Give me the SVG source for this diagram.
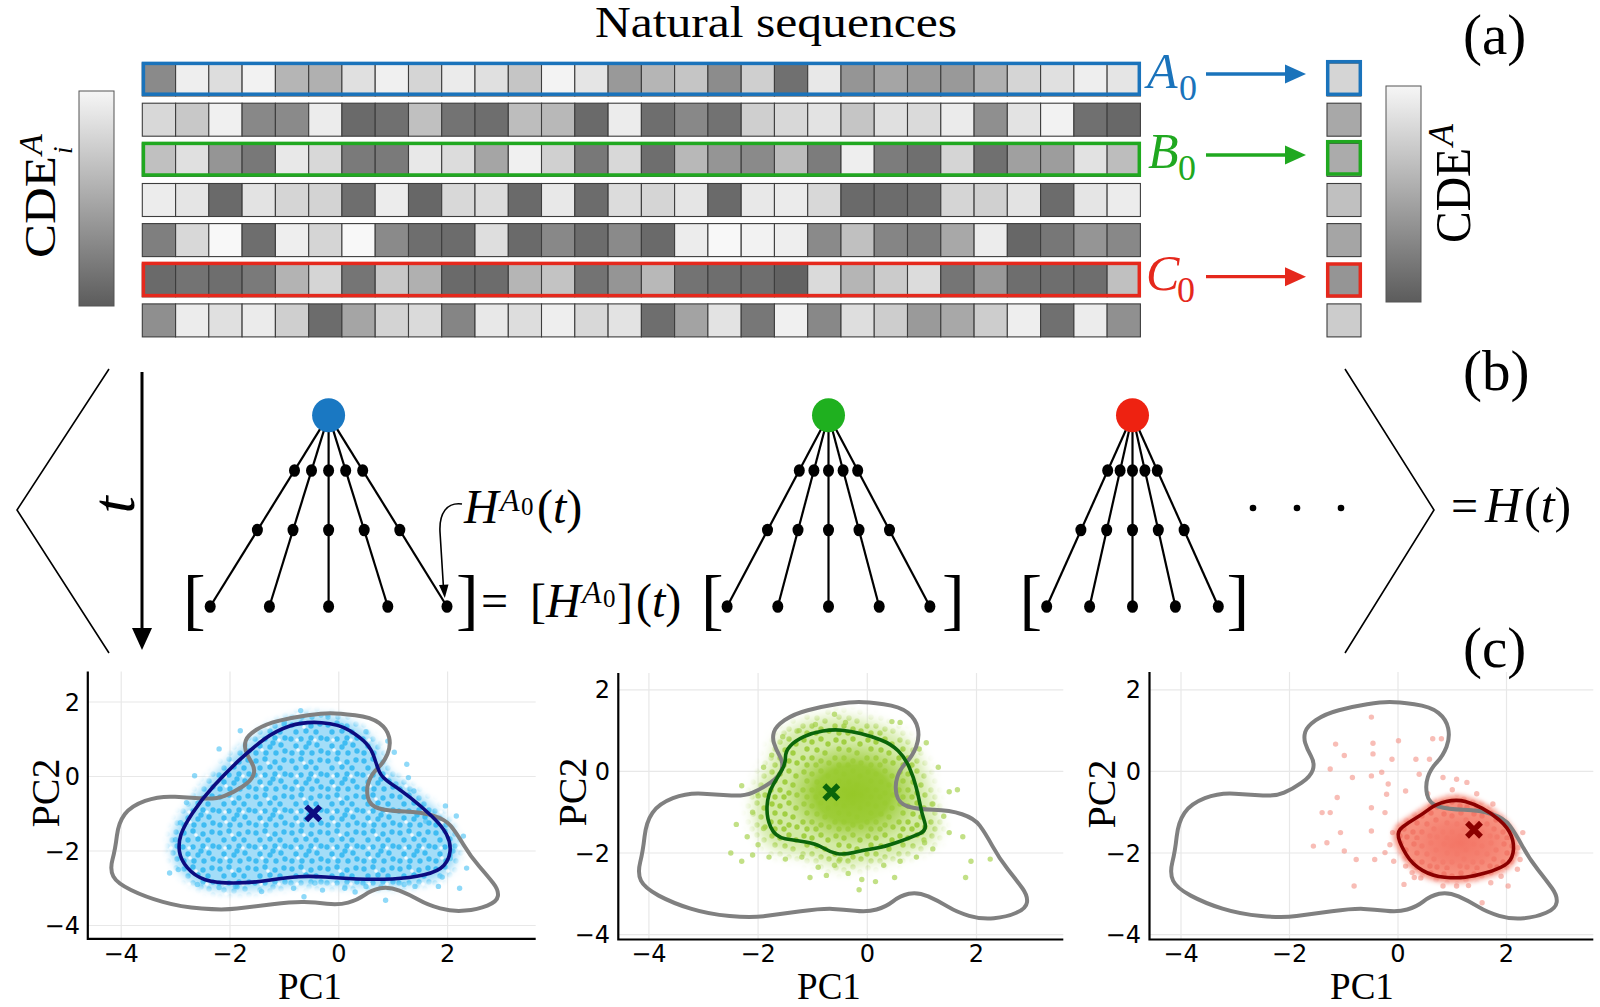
<svg xmlns="http://www.w3.org/2000/svg" width="1600" height="1007" viewBox="0 0 1600 1007">
<style>
.s{font-family:"Liberation Serif","Times New Roman",serif;fill:#000}
.it{font-style:italic}
.c rect{stroke:#3d3d3d;stroke-width:1.1}
.tk{font-family:"DejaVu Sans","Liberation Sans",sans-serif;font-size:24px;fill:#000}
.tx{text-anchor:middle}
.ty{text-anchor:end}
.grid line{stroke:#e8e8e8;stroke-width:1.2}
.ax{fill:none;stroke:#000;stroke-width:2.2}
.edge line{stroke:#000;stroke-width:2.2}
.nd ellipse{fill:#000}
.gc{fill:none;stroke:#808080;stroke-width:4}
.fr{fill:none;stroke-width:3.5}
</style>
<defs>
<linearGradient id="cb" x1="0" y1="0" x2="0" y2="1"><stop offset="0" stop-color="#f6f6f6"/><stop offset="1" stop-color="#5c5c5c"/></linearGradient>
<filter id="blur4" x="-20%" y="-20%" width="140%" height="140%"><feGaussianBlur stdDeviation="4"/></filter>
<filter id="blur7" x="-30%" y="-30%" width="160%" height="160%"><feGaussianBlur stdDeviation="7"/></filter>
<filter id="blur2" x="-20%" y="-20%" width="140%" height="140%"><feGaussianBlur stdDeviation="2.5"/></filter>
<pattern id="dotB" patternUnits="userSpaceOnUse" width="36" height="36">
<rect width="36" height="36" fill="#a3ddf8"/>
<g fill="#3fbcf2"><circle cx="4" cy="5" r="2.7"/><circle cx="13" cy="3" r="2.7"/><circle cx="23" cy="6" r="2.7"/><circle cx="32" cy="4" r="2.7"/><circle cx="8" cy="12" r="2.7"/><circle cx="18" cy="11" r="2.7"/><circle cx="28" cy="12" r="2.7"/><circle cx="33" cy="18" r="2.7"/><circle cx="3" cy="19" r="2.7"/><circle cx="13" cy="19" r="2.7"/><circle cx="23" cy="18" r="2.7"/><circle cx="8" cy="26" r="2.7"/><circle cx="18" cy="27" r="2.7"/><circle cx="29" cy="25" r="2.7"/><circle cx="4" cy="33" r="2.7"/><circle cx="14" cy="33" r="2.7"/><circle cx="24" cy="33" r="2.7"/><circle cx="33" cy="31" r="2.7"/><circle cx="21" cy="23" r="2.7"/></g>
<g fill="#eef9fe"><circle cx="9" cy="20" r="1.8"/><circle cx="27" cy="20" r="1.8"/><circle cx="16" cy="7" r="1.8"/><circle cx="10" cy="30" r="1.8"/></g>
</pattern>
<pattern id="dotG" patternUnits="userSpaceOnUse" width="32" height="32">
<rect width="32" height="32" fill="#d3eaa6"/>
<g fill="#a1cf42"><circle cx="4" cy="4" r="2.7"/><circle cx="12" cy="6" r="2.7"/><circle cx="21" cy="3" r="2.7"/><circle cx="28" cy="8" r="2.7"/><circle cx="7" cy="13" r="2.7"/><circle cx="17" cy="14" r="2.7"/><circle cx="25" cy="17" r="2.7"/><circle cx="3" cy="22" r="2.7"/><circle cx="12" cy="22" r="2.7"/><circle cx="21" cy="25" r="2.7"/><circle cx="29" cy="27" r="2.7"/><circle cx="7" cy="29" r="2.7"/><circle cx="16" cy="29" r="2.7"/></g>
</pattern>
<pattern id="dotR" patternUnits="userSpaceOnUse" width="30" height="30">
<rect width="30" height="30" fill="#f7917f"/>
<g fill="#f27868"><circle cx="4" cy="4" r="2.7"/><circle cx="12" cy="6" r="2.7"/><circle cx="21" cy="3" r="2.7"/><circle cx="26" cy="10" r="2.7"/><circle cx="7" cy="13" r="2.7"/><circle cx="17" cy="14" r="2.7"/><circle cx="24" cy="19" r="2.7"/><circle cx="3" cy="22" r="2.7"/><circle cx="12" cy="22" r="2.7"/><circle cx="20" cy="26" r="2.7"/><circle cx="27" cy="27" r="2.7"/><circle cx="7" cy="28" r="2.7"/></g>
</pattern>
<radialGradient id="coreG"><stop offset="0" stop-color="#96c828"/><stop offset="0.55" stop-color="#9acb32" stop-opacity="0.95"/><stop offset="0.8" stop-color="#a5d04a" stop-opacity="0.5"/><stop offset="1" stop-color="#a5d04a" stop-opacity="0"/></radialGradient>
<radialGradient id="coreR"><stop offset="0" stop-color="#f37565"/><stop offset="0.6" stop-color="#f47e6e" stop-opacity="0.8"/><stop offset="1" stop-color="#f48272" stop-opacity="0"/></radialGradient>
<path id="kdeAll" vector-effect="non-scaling-stroke" stroke-linejoin="round" d="M-0.155,1.7 Q0,1.7 0.3,1.645 Q0.6,1.59 0.745,1.435 Q0.89,1.28 0.925,1.055 Q0.96,0.83 0.895,0.605 Q0.83,0.38 0.715,0.22 Q0.6,0.06 0.55,-0.14 Q0.5,-0.34 0.535,-0.565 Q0.57,-0.79 0.745,-0.86 Q0.92,-0.93 1.215,-0.94 Q1.51,-0.95 1.735,-1.05 Q1.96,-1.15 2.06,-1.33 Q2.16,-1.51 2.29,-1.825 Q2.42,-2.14 2.58,-2.41 Q2.74,-2.68 2.84,-2.865 Q2.94,-3.05 2.925,-3.205 Q2.91,-3.36 2.73,-3.465 Q2.55,-3.57 2.32,-3.6 Q2.09,-3.63 1.865,-3.54 Q1.64,-3.45 1.475,-3.315 Q1.31,-3.18 1.115,-3.065 Q0.92,-2.95 0.76,-3 Q0.6,-3.05 0.47,-3.185 Q0.34,-3.32 0.17,-3.385 Q0,-3.45 -0.22,-3.415 Q-0.44,-3.38 -0.635,-3.37 Q-0.83,-3.36 -1.22,-3.43 Q-1.61,-3.5 -1.87,-3.545 Q-2.13,-3.59 -2.52,-3.545 Q-2.91,-3.5 -3.235,-3.365 Q-3.56,-3.23 -3.82,-3.045 Q-4.08,-2.86 -4.145,-2.68 Q-4.21,-2.5 -4.16,-2.23 Q-4.11,-1.96 -4.08,-1.6 Q-4.05,-1.24 -3.935,-1.015 Q-3.82,-0.79 -3.56,-0.655 Q-3.3,-0.52 -3.01,-0.545 Q-2.72,-0.57 -2.49,-0.59 Q-2.26,-0.61 -2.1,-0.52 Q-1.94,-0.43 -1.775,-0.275 Q-1.61,-0.12 -1.57,0.04 Q-1.53,0.2 -1.605,0.38 Q-1.68,0.56 -1.71,0.695 Q-1.74,0.83 -1.71,0.965 Q-1.68,1.1 -1.515,1.255 Q-1.35,1.41 -1.09,1.5 Q-0.83,1.59 -0.57,1.645 Q-0.31,1.7 -0.155,1.7 Z"/>
<path id="kdeA" vector-effect="non-scaling-stroke" stroke-linejoin="round" d="M-0.9,1.355 Q-0.64,1.48 -0.315,1.445 Q0.01,1.41 0.205,1.23 Q0.4,1.05 0.5,0.895 Q0.6,0.74 0.65,0.515 Q0.7,0.29 0.745,0.13 Q0.79,-0.03 0.955,-0.185 Q1.12,-0.34 1.315,-0.565 Q1.51,-0.79 1.705,-1.06 Q1.9,-1.33 1.98,-1.555 Q2.06,-1.78 2.045,-2.005 Q2.03,-2.23 1.93,-2.39 Q1.83,-2.55 1.57,-2.64 Q1.31,-2.73 0.985,-2.75 Q0.66,-2.77 0.335,-2.75 Q0.01,-2.73 -0.25,-2.7 Q-0.51,-2.67 -0.735,-2.69 Q-0.96,-2.71 -1.285,-2.785 Q-1.61,-2.86 -1.935,-2.86 Q-2.26,-2.86 -2.455,-2.77 Q-2.65,-2.68 -2.78,-2.455 Q-2.91,-2.23 -2.93,-2.005 Q-2.95,-1.78 -2.9,-1.555 Q-2.85,-1.33 -2.685,-0.97 Q-2.52,-0.61 -2.295,-0.25 Q-2.07,0.11 -1.84,0.425 Q-1.61,0.74 -1.385,0.985 Q-1.16,1.23 -0.9,1.355 Z"/>
<path id="kdeB" vector-effect="non-scaling-stroke" stroke-linejoin="round" d="M-0.815,0.99 Q-0.63,1.03 -0.47,1.01 Q-0.31,0.99 -0.125,0.93 Q0.06,0.87 0.25,0.77 Q0.44,0.67 0.565,0.505 Q0.69,0.34 0.77,0.095 Q0.85,-0.15 0.895,-0.39 Q0.94,-0.63 0.97,-0.835 Q1,-1.04 1.05,-1.24 Q1.1,-1.44 0.96,-1.525 Q0.82,-1.61 0.565,-1.73 Q0.31,-1.85 0.125,-1.89 Q-0.06,-1.93 -0.25,-1.99 Q-0.44,-2.05 -0.565,-2.01 Q-0.69,-1.97 -0.815,-1.87 Q-0.94,-1.77 -1.13,-1.73 Q-1.32,-1.69 -1.505,-1.65 Q-1.69,-1.61 -1.77,-1.365 Q-1.85,-1.12 -1.835,-0.835 Q-1.82,-0.55 -1.725,-0.33 Q-1.63,-0.11 -1.565,0.035 Q-1.5,0.18 -1.5,0.34 Q-1.5,0.5 -1.41,0.625 Q-1.32,0.75 -1.16,0.85 Q-1,0.95 -0.815,0.99 Z"/>
<path id="kdeC" vector-effect="non-scaling-stroke" stroke-linejoin="round" d="M0.89,-0.74 Q1.08,-0.68 1.24,-0.74 Q1.4,-0.8 1.555,-0.905 Q1.71,-1.01 1.87,-1.195 Q2.03,-1.38 2.09,-1.585 Q2.15,-1.79 2.12,-1.995 Q2.09,-2.2 1.965,-2.3 Q1.84,-2.4 1.62,-2.485 Q1.4,-2.57 1.24,-2.595 Q1.08,-2.62 0.86,-2.595 Q0.64,-2.57 0.45,-2.425 Q0.26,-2.28 0.15,-2.035 Q0.04,-1.79 0.01,-1.625 Q-0.02,-1.46 0.09,-1.355 Q0.2,-1.25 0.325,-1.15 Q0.45,-1.05 0.575,-0.925 Q0.7,-0.8 0.89,-0.74 Z"/>
<mask id="mA" maskUnits="userSpaceOnUse" x="60" y="640" width="520" height="330"><g filter="url(#blur4)"><use href="#kdeA" transform="translate(338.8 776.5) scale(54.4 -37.25)" fill="#fff" stroke="#fff" stroke-width="16"/></g></mask>
<mask id="mB" maskUnits="userSpaceOnUse" x="590" y="640" width="500" height="330"><g filter="url(#blur7)"><use href="#kdeB" transform="translate(867.3 771.4) scale(54.6 -40.8)" fill="#fff" stroke="#fff" stroke-width="26"/></g></mask>
<mask id="mC" maskUnits="userSpaceOnUse" x="1120" y="640" width="480" height="330"><g filter="url(#blur2)"><use href="#kdeC" transform="translate(1398 771.4) scale(54.25 -40.8)" fill="#fff" stroke="#fff" stroke-width="10"/></g></mask>
</defs>
<rect width="1600" height="1007" fill="#fff"/>

<text id="title" class="s" x="776" y="37" font-size="44" text-anchor="middle" textLength="362" lengthAdjust="spacingAndGlyphs">Natural sequences</text>
<text class="s" x="1463" y="54" font-size="57">(a)</text>
<text class="s" x="1463" y="390" font-size="57">(b)</text>
<text class="s" x="1463" y="667" font-size="57">(c)</text>

<g id="colorbar-left">
<rect x="79" y="91" width="35" height="215" fill="url(#cb)" stroke="#555" stroke-width="1"/>
<text class="s" transform="translate(55 258) rotate(-90)" font-size="44"><tspan textLength="102" lengthAdjust="spacingAndGlyphs">CDE</tspan><tspan class="it" x="103" y="-13" font-size="34">A</tspan><tspan class="it" x="104" y="17" font-size="27">i</tspan></text>
</g>
<g id="colorbar-right">
<rect x="1386" y="86" width="35" height="216" fill="url(#cb)" stroke="#555" stroke-width="1"/>
<text class="s" transform="translate(1470 243) rotate(-90)" font-size="50"><tspan textLength="95" lengthAdjust="spacingAndGlyphs">CDE</tspan><tspan class="it" x="97" y="-17" font-size="36">A</tspan></text>
</g>

<g id="sequences" class="c">
<g id="seq-1" transform="translate(0 63)">
<rect x="142.3" width="33.3" height="33" fill="#8a8a8a"/><rect x="175.6" width="33.3" height="33" fill="#eeeeee"/><rect x="208.8" width="33.3" height="33" fill="#dddddd"/><rect x="242.1" width="33.3" height="33" fill="#f2f2f2"/><rect x="275.4" width="33.3" height="33" fill="#b5b5b5"/><rect x="308.7" width="33.3" height="33" fill="#b0b0b0"/><rect x="341.9" width="33.3" height="33" fill="#e0e0e0"/><rect x="375.2" width="33.3" height="33" fill="#f0f0f0"/><rect x="408.5" width="33.3" height="33" fill="#d5d5d5"/><rect x="441.7" width="33.3" height="33" fill="#ebebeb"/><rect x="475" width="33.3" height="33" fill="#e0e0e0"/><rect x="508.3" width="33.3" height="33" fill="#c5c5c5"/><rect x="541.5" width="33.3" height="33" fill="#f3f3f3"/><rect x="574.8" width="33.3" height="33" fill="#e5e5e5"/><rect x="608.1" width="33.3" height="33" fill="#999999"/><rect x="641.4" width="33.3" height="33" fill="#b5b5b5"/><rect x="674.6" width="33.3" height="33" fill="#c5c5c5"/><rect x="707.9" width="33.3" height="33" fill="#8c8c8c"/><rect x="741.2" width="33.3" height="33" fill="#cfcfcf"/><rect x="774.4" width="33.3" height="33" fill="#707070"/><rect x="807.7" width="33.3" height="33" fill="#e8e8e8"/><rect x="841" width="33.3" height="33" fill="#959595"/><rect x="874.2" width="33.3" height="33" fill="#a5a5a5"/><rect x="907.5" width="33.3" height="33" fill="#9a9a9a"/><rect x="940.8" width="33.3" height="33" fill="#999999"/><rect x="974.1" width="33.3" height="33" fill="#b0b0b0"/><rect x="1007.3" width="33.3" height="33" fill="#d5d5d5"/><rect x="1040.6" width="33.3" height="33" fill="#e0e0e0"/><rect x="1073.9" width="33.3" height="33" fill="#eeeeee"/><rect x="1107.1" width="33.3" height="33" fill="#e5e5e5"/>
</g>
<g id="seq-2" transform="translate(0 103.2)">
<rect x="142.3" width="33.3" height="33" fill="#d8d8d8"/><rect x="175.6" width="33.3" height="33" fill="#c8c8c8"/><rect x="208.8" width="33.3" height="33" fill="#f0f0f0"/><rect x="242.1" width="33.3" height="33" fill="#888888"/><rect x="275.4" width="33.3" height="33" fill="#8a8a8a"/><rect x="308.7" width="33.3" height="33" fill="#ececec"/><rect x="341.9" width="33.3" height="33" fill="#6a6a6a"/><rect x="375.2" width="33.3" height="33" fill="#707070"/><rect x="408.5" width="33.3" height="33" fill="#c0c0c0"/><rect x="441.7" width="33.3" height="33" fill="#737373"/><rect x="475" width="33.3" height="33" fill="#6e6e6e"/><rect x="508.3" width="33.3" height="33" fill="#bdbdbd"/><rect x="541.5" width="33.3" height="33" fill="#b8b8b8"/><rect x="574.8" width="33.3" height="33" fill="#6a6a6a"/><rect x="608.1" width="33.3" height="33" fill="#ececec"/><rect x="641.4" width="33.3" height="33" fill="#6e6e6e"/><rect x="674.6" width="33.3" height="33" fill="#888888"/><rect x="707.9" width="33.3" height="33" fill="#727272"/><rect x="741.2" width="33.3" height="33" fill="#cfcfcf"/><rect x="774.4" width="33.3" height="33" fill="#d8d8d8"/><rect x="807.7" width="33.3" height="33" fill="#e3e3e3"/><rect x="841" width="33.3" height="33" fill="#c5c5c5"/><rect x="874.2" width="33.3" height="33" fill="#e0e0e0"/><rect x="907.5" width="33.3" height="33" fill="#dadada"/><rect x="940.8" width="33.3" height="33" fill="#ebebeb"/><rect x="974.1" width="33.3" height="33" fill="#8f8f8f"/><rect x="1007.3" width="33.3" height="33" fill="#e3e3e3"/><rect x="1040.6" width="33.3" height="33" fill="#f2f2f2"/><rect x="1073.9" width="33.3" height="33" fill="#707070"/><rect x="1107.1" width="33.3" height="33" fill="#686868"/>
</g>
<g id="seq-3" transform="translate(0 143.3)">
<rect x="142.3" width="33.3" height="33" fill="#c0c0c0"/><rect x="175.6" width="33.3" height="33" fill="#e0e0e0"/><rect x="208.8" width="33.3" height="33" fill="#959595"/><rect x="242.1" width="33.3" height="33" fill="#787878"/><rect x="275.4" width="33.3" height="33" fill="#e8e8e8"/><rect x="308.7" width="33.3" height="33" fill="#d8d8d8"/><rect x="341.9" width="33.3" height="33" fill="#7a7a7a"/><rect x="375.2" width="33.3" height="33" fill="#7a7a7a"/><rect x="408.5" width="33.3" height="33" fill="#e8e8e8"/><rect x="441.7" width="33.3" height="33" fill="#dcdcdc"/><rect x="475" width="33.3" height="33" fill="#a5a5a5"/><rect x="508.3" width="33.3" height="33" fill="#f0f0f0"/><rect x="541.5" width="33.3" height="33" fill="#d0d0d0"/><rect x="574.8" width="33.3" height="33" fill="#787878"/><rect x="608.1" width="33.3" height="33" fill="#d8d8d8"/><rect x="641.4" width="33.3" height="33" fill="#6e6e6e"/><rect x="674.6" width="33.3" height="33" fill="#b8b8b8"/><rect x="707.9" width="33.3" height="33" fill="#959595"/><rect x="741.2" width="33.3" height="33" fill="#8a8a8a"/><rect x="774.4" width="33.3" height="33" fill="#bcbcbc"/><rect x="807.7" width="33.3" height="33" fill="#7c7c7c"/><rect x="841" width="33.3" height="33" fill="#eeeeee"/><rect x="874.2" width="33.3" height="33" fill="#7c7c7c"/><rect x="907.5" width="33.3" height="33" fill="#6f6f6f"/><rect x="940.8" width="33.3" height="33" fill="#d5d5d5"/><rect x="974.1" width="33.3" height="33" fill="#707070"/><rect x="1007.3" width="33.3" height="33" fill="#a0a0a0"/><rect x="1040.6" width="33.3" height="33" fill="#9d9d9d"/><rect x="1073.9" width="33.3" height="33" fill="#e2e2e2"/><rect x="1107.1" width="33.3" height="33" fill="#bdbdbd"/>
</g>
<g id="seq-4" transform="translate(0 183.5)">
<rect x="142.3" width="33.3" height="33" fill="#ececec"/><rect x="175.6" width="33.3" height="33" fill="#e5e5e5"/><rect x="208.8" width="33.3" height="33" fill="#6a6a6a"/><rect x="242.1" width="33.3" height="33" fill="#e3e3e3"/><rect x="275.4" width="33.3" height="33" fill="#d5d5d5"/><rect x="308.7" width="33.3" height="33" fill="#d3d3d3"/><rect x="341.9" width="33.3" height="33" fill="#6e6e6e"/><rect x="375.2" width="33.3" height="33" fill="#ececec"/><rect x="408.5" width="33.3" height="33" fill="#676767"/><rect x="441.7" width="33.3" height="33" fill="#d8d8d8"/><rect x="475" width="33.3" height="33" fill="#dcdcdc"/><rect x="508.3" width="33.3" height="33" fill="#6a6a6a"/><rect x="541.5" width="33.3" height="33" fill="#e8e8e8"/><rect x="574.8" width="33.3" height="33" fill="#6c6c6c"/><rect x="608.1" width="33.3" height="33" fill="#dcdcdc"/><rect x="641.4" width="33.3" height="33" fill="#d5d5d5"/><rect x="674.6" width="33.3" height="33" fill="#e5e5e5"/><rect x="707.9" width="33.3" height="33" fill="#6a6a6a"/><rect x="741.2" width="33.3" height="33" fill="#e8e8e8"/><rect x="774.4" width="33.3" height="33" fill="#ebebeb"/><rect x="807.7" width="33.3" height="33" fill="#d8d8d8"/><rect x="841" width="33.3" height="33" fill="#6a6a6a"/><rect x="874.2" width="33.3" height="33" fill="#6c6c6c"/><rect x="907.5" width="33.3" height="33" fill="#6e6e6e"/><rect x="940.8" width="33.3" height="33" fill="#d5d5d5"/><rect x="974.1" width="33.3" height="33" fill="#d0d0d0"/><rect x="1007.3" width="33.3" height="33" fill="#e3e3e3"/><rect x="1040.6" width="33.3" height="33" fill="#6c6c6c"/><rect x="1073.9" width="33.3" height="33" fill="#e5e5e5"/><rect x="1107.1" width="33.3" height="33" fill="#ececec"/>
</g>
<g id="seq-5" transform="translate(0 223.6)">
<rect x="142.3" width="33.3" height="33" fill="#7f7f7f"/><rect x="175.6" width="33.3" height="33" fill="#d8d8d8"/><rect x="208.8" width="33.3" height="33" fill="#f8f8f8"/><rect x="242.1" width="33.3" height="33" fill="#6e6e6e"/><rect x="275.4" width="33.3" height="33" fill="#eeeeee"/><rect x="308.7" width="33.3" height="33" fill="#d5d5d5"/><rect x="341.9" width="33.3" height="33" fill="#f8f8f8"/><rect x="375.2" width="33.3" height="33" fill="#8a8a8a"/><rect x="408.5" width="33.3" height="33" fill="#6e6e6e"/><rect x="441.7" width="33.3" height="33" fill="#6c6c6c"/><rect x="475" width="33.3" height="33" fill="#dedede"/><rect x="508.3" width="33.3" height="33" fill="#6a6a6a"/><rect x="541.5" width="33.3" height="33" fill="#888888"/><rect x="574.8" width="33.3" height="33" fill="#6c6c6c"/><rect x="608.1" width="33.3" height="33" fill="#8a8a8a"/><rect x="641.4" width="33.3" height="33" fill="#6a6a6a"/><rect x="674.6" width="33.3" height="33" fill="#ececec"/><rect x="707.9" width="33.3" height="33" fill="#f8f8f8"/><rect x="741.2" width="33.3" height="33" fill="#f2f2f2"/><rect x="774.4" width="33.3" height="33" fill="#eeeeee"/><rect x="807.7" width="33.3" height="33" fill="#8a8a8a"/><rect x="841" width="33.3" height="33" fill="#c0c0c0"/><rect x="874.2" width="33.3" height="33" fill="#858585"/><rect x="907.5" width="33.3" height="33" fill="#7c7c7c"/><rect x="940.8" width="33.3" height="33" fill="#a8a8a8"/><rect x="974.1" width="33.3" height="33" fill="#ececec"/><rect x="1007.3" width="33.3" height="33" fill="#676767"/><rect x="1040.6" width="33.3" height="33" fill="#777777"/><rect x="1073.9" width="33.3" height="33" fill="#959595"/><rect x="1107.1" width="33.3" height="33" fill="#888888"/>
</g>
<g id="seq-6" transform="translate(0 263.8)">
<rect x="142.3" width="33.3" height="33" fill="#6a6a6a"/><rect x="175.6" width="33.3" height="33" fill="#737373"/><rect x="208.8" width="33.3" height="33" fill="#6e6e6e"/><rect x="242.1" width="33.3" height="33" fill="#7a7a7a"/><rect x="275.4" width="33.3" height="33" fill="#b3b3b3"/><rect x="308.7" width="33.3" height="33" fill="#d5d5d5"/><rect x="341.9" width="33.3" height="33" fill="#757575"/><rect x="375.2" width="33.3" height="33" fill="#c8c8c8"/><rect x="408.5" width="33.3" height="33" fill="#b0b0b0"/><rect x="441.7" width="33.3" height="33" fill="#6a6a6a"/><rect x="475" width="33.3" height="33" fill="#6c6c6c"/><rect x="508.3" width="33.3" height="33" fill="#b5b5b5"/><rect x="541.5" width="33.3" height="33" fill="#c3c3c3"/><rect x="574.8" width="33.3" height="33" fill="#737373"/><rect x="608.1" width="33.3" height="33" fill="#959595"/><rect x="641.4" width="33.3" height="33" fill="#b8b8b8"/><rect x="674.6" width="33.3" height="33" fill="#737373"/><rect x="707.9" width="33.3" height="33" fill="#6e6e6e"/><rect x="741.2" width="33.3" height="33" fill="#6e6e6e"/><rect x="774.4" width="33.3" height="33" fill="#626262"/><rect x="807.7" width="33.3" height="33" fill="#dadada"/><rect x="841" width="33.3" height="33" fill="#b5b5b5"/><rect x="874.2" width="33.3" height="33" fill="#cbcbcb"/><rect x="907.5" width="33.3" height="33" fill="#dcdcdc"/><rect x="940.8" width="33.3" height="33" fill="#757575"/><rect x="974.1" width="33.3" height="33" fill="#999999"/><rect x="1007.3" width="33.3" height="33" fill="#6e6e6e"/><rect x="1040.6" width="33.3" height="33" fill="#6e6e6e"/><rect x="1073.9" width="33.3" height="33" fill="#6e6e6e"/><rect x="1107.1" width="33.3" height="33" fill="#c0c0c0"/>
</g>
<g id="seq-7" transform="translate(0 303.9)">
<rect x="142.3" width="33.3" height="33" fill="#8f8f8f"/><rect x="175.6" width="33.3" height="33" fill="#ececec"/><rect x="208.8" width="33.3" height="33" fill="#e0e0e0"/><rect x="242.1" width="33.3" height="33" fill="#ebebeb"/><rect x="275.4" width="33.3" height="33" fill="#cfcfcf"/><rect x="308.7" width="33.3" height="33" fill="#6c6c6c"/><rect x="341.9" width="33.3" height="33" fill="#a5a5a5"/><rect x="375.2" width="33.3" height="33" fill="#d3d3d3"/><rect x="408.5" width="33.3" height="33" fill="#dadada"/><rect x="441.7" width="33.3" height="33" fill="#858585"/><rect x="475" width="33.3" height="33" fill="#e8e8e8"/><rect x="508.3" width="33.3" height="33" fill="#dddddd"/><rect x="541.5" width="33.3" height="33" fill="#eeeeee"/><rect x="574.8" width="33.3" height="33" fill="#d8d8d8"/><rect x="608.1" width="33.3" height="33" fill="#e3e3e3"/><rect x="641.4" width="33.3" height="33" fill="#6e6e6e"/><rect x="674.6" width="33.3" height="33" fill="#a3a3a3"/><rect x="707.9" width="33.3" height="33" fill="#e3e3e3"/><rect x="741.2" width="33.3" height="33" fill="#777777"/><rect x="774.4" width="33.3" height="33" fill="#f0f0f0"/><rect x="807.7" width="33.3" height="33" fill="#888888"/><rect x="841" width="33.3" height="33" fill="#dedede"/><rect x="874.2" width="33.3" height="33" fill="#cdcdcd"/><rect x="907.5" width="33.3" height="33" fill="#9a9a9a"/><rect x="940.8" width="33.3" height="33" fill="#a8a8a8"/><rect x="974.1" width="33.3" height="33" fill="#cdcdcd"/><rect x="1007.3" width="33.3" height="33" fill="#eeeeee"/><rect x="1040.6" width="33.3" height="33" fill="#707070"/><rect x="1073.9" width="33.3" height="33" fill="#ececec"/><rect x="1107.1" width="33.3" height="33" fill="#909090"/>
</g>
</g>

<g id="cde-column" class="c">
<rect x="1327" y="63" width="34" height="33" fill="#d5d5d5"/>
<rect x="1327" y="103.2" width="34" height="33" fill="#a8a8a8"/>
<rect x="1327" y="143.3" width="34" height="33" fill="#ababab"/>
<rect x="1327" y="183.5" width="34" height="33" fill="#c0c0c0"/>
<rect x="1327" y="223.6" width="34" height="33" fill="#a5a5a5"/>
<rect x="1327" y="263.8" width="34" height="33" fill="#959595"/>
<rect x="1327" y="303.9" width="34" height="33" fill="#cccccc"/>
</g>

<g id="highlight-frames">
<rect class="fr" x="143.4" y="63.4" width="995.9" height="30.8" stroke="#1a73bb"/>
<rect class="fr" x="143.4" y="143.4" width="995.9" height="31.6" stroke="#20a820"/>
<rect class="fr" x="143.4" y="263.4" width="995.9" height="32.2" stroke="#e5281c"/>
<rect class="fr" x="1327.7" y="61.7" width="32.6" height="32.6" stroke="#1a73bb"/>
<rect class="fr" x="1327.7" y="141.7" width="32.6" height="32.3" stroke="#20a820"/>
<rect class="fr" x="1327.7" y="264" width="32.6" height="32" stroke="#e5281c"/>
</g>

<g id="labels-abc">
<text class="s it" x="1147" y="88" font-size="50" style="fill:#1a73bb">A<tspan style="font-style:normal" x="1179" y="100" font-size="36">0</tspan></text>
<text class="s it" x="1148" y="168" font-size="50" style="fill:#20a820">B<tspan style="font-style:normal" x="1178" y="180" font-size="36">0</tspan></text>
<text class="s it" x="1146" y="290" font-size="50" style="fill:#e5281c">C<tspan style="font-style:normal" x="1177" y="302" font-size="36">0</tspan></text>
</g>

<g id="connectors">
<line x1="1206" y1="74" x2="1288" y2="74" stroke="#1a73bb" stroke-width="3.3"/>
<polygon points="1285,64.5 1306,74 1285,83.5" fill="#1a73bb"/>
<line x1="1206" y1="155" x2="1288" y2="155" stroke="#20a820" stroke-width="3.3"/>
<polygon points="1285,145.5 1306,155 1285,164.5" fill="#20a820"/>
<line x1="1206" y1="276.7" x2="1288" y2="276.7" stroke="#e5281c" stroke-width="3.3"/>
<polygon points="1285,267.2 1306,276.7 1285,286.2" fill="#e5281c"/>
<polyline points="109,369 17,510 109,653" fill="none" stroke="#000" stroke-width="1.6"/>
<polyline points="1345,369 1434,510 1345,653" fill="none" stroke="#000" stroke-width="1.6"/>
<line x1="142" y1="372" x2="142" y2="632" stroke="#000" stroke-width="3"/>
<polygon points="132,628 152,628 142,650" fill="#000"/>
<path d="M462,504 C447,502 439,513 440,532 L443.5,588" fill="none" stroke="#000" stroke-width="1.6"/>
<polygon points="439,585 448.5,584.5 444.8,598" fill="#000"/>
</g>
<text class="s it" transform="translate(134 505) rotate(-90)" font-size="62" text-anchor="middle">t</text>

<g id="tree-A">
<g class="edge"><line x1="328.6" y1="415.3" x2="210.2" y2="606.5"/><line x1="328.6" y1="415.3" x2="269.4" y2="606.5"/><line x1="328.6" y1="415.3" x2="328.6" y2="606.5"/><line x1="328.6" y1="415.3" x2="387.8" y2="606.5"/><line x1="328.6" y1="415.3" x2="447" y2="606.5"/></g>
<g class="nd"><ellipse cx="294.5" cy="470.5" rx="5.5" ry="6.3"/><ellipse cx="311.5" cy="470.5" rx="5.5" ry="6.3"/><ellipse cx="328.6" cy="470.5" rx="5.5" ry="6.3"/><ellipse cx="345.7" cy="470.5" rx="5.5" ry="6.3"/><ellipse cx="362.7" cy="470.5" rx="5.5" ry="6.3"/>
<ellipse cx="257.4" cy="530" rx="5.5" ry="6.3"/><ellipse cx="293" cy="530" rx="5.5" ry="6.3"/><ellipse cx="328.6" cy="530" rx="5.5" ry="6.3"/><ellipse cx="364.2" cy="530" rx="5.5" ry="6.3"/><ellipse cx="399.8" cy="530" rx="5.5" ry="6.3"/>
<ellipse cx="210.2" cy="606.5" rx="5.5" ry="6.3"/><ellipse cx="269.4" cy="606.5" rx="5.5" ry="6.3"/><ellipse cx="328.6" cy="606.5" rx="5.5" ry="6.3"/><ellipse cx="387.8" cy="606.5" rx="5.5" ry="6.3"/><ellipse cx="447" cy="606.5" rx="5.5" ry="6.3"/></g>
<ellipse cx="328.6" cy="415.3" rx="16.5" ry="17" fill="#1a78c2"/>
<text class="s" x="183" y="622" font-size="68">[</text>
<text class="s" x="456" y="622" font-size="68">]</text>
</g>
<g id="tree-B">
<g class="edge"><line x1="828.5" y1="415.3" x2="727.1" y2="606.5"/><line x1="828.5" y1="415.3" x2="777.8" y2="606.5"/><line x1="828.5" y1="415.3" x2="828.5" y2="606.5"/><line x1="828.5" y1="415.3" x2="879.2" y2="606.5"/><line x1="828.5" y1="415.3" x2="929.9" y2="606.5"/></g>
<g class="nd"><ellipse cx="799.3" cy="470.5" rx="5.5" ry="6.3"/><ellipse cx="813.9" cy="470.5" rx="5.5" ry="6.3"/><ellipse cx="828.5" cy="470.5" rx="5.5" ry="6.3"/><ellipse cx="843.1" cy="470.5" rx="5.5" ry="6.3"/><ellipse cx="857.7" cy="470.5" rx="5.5" ry="6.3"/>
<ellipse cx="767.5" cy="530" rx="5.5" ry="6.3"/><ellipse cx="798" cy="530" rx="5.5" ry="6.3"/><ellipse cx="828.5" cy="530" rx="5.5" ry="6.3"/><ellipse cx="859" cy="530" rx="5.5" ry="6.3"/><ellipse cx="889.5" cy="530" rx="5.5" ry="6.3"/>
<ellipse cx="727.1" cy="606.5" rx="5.5" ry="6.3"/><ellipse cx="777.8" cy="606.5" rx="5.5" ry="6.3"/><ellipse cx="828.5" cy="606.5" rx="5.5" ry="6.3"/><ellipse cx="879.2" cy="606.5" rx="5.5" ry="6.3"/><ellipse cx="929.9" cy="606.5" rx="5.5" ry="6.3"/></g>
<ellipse cx="828.5" cy="415.3" rx="16.5" ry="17" fill="#1fb01f"/>
<text class="s" x="701" y="622" font-size="68">[</text>
<text class="s" x="942" y="622" font-size="68">]</text>
</g>
<g id="tree-C">
<g class="edge"><line x1="1132.5" y1="415.3" x2="1046.7" y2="606.5"/><line x1="1132.5" y1="415.3" x2="1089.6" y2="606.5"/><line x1="1132.5" y1="415.3" x2="1132.5" y2="606.5"/><line x1="1132.5" y1="415.3" x2="1175.4" y2="606.5"/><line x1="1132.5" y1="415.3" x2="1218.3" y2="606.5"/></g>
<g class="nd"><ellipse cx="1107.7" cy="470.5" rx="5.5" ry="6.3"/><ellipse cx="1120.1" cy="470.5" rx="5.5" ry="6.3"/><ellipse cx="1132.5" cy="470.5" rx="5.5" ry="6.3"/><ellipse cx="1144.9" cy="470.5" rx="5.5" ry="6.3"/><ellipse cx="1157.3" cy="470.5" rx="5.5" ry="6.3"/>
<ellipse cx="1080.9" cy="530" rx="5.5" ry="6.3"/><ellipse cx="1106.7" cy="530" rx="5.5" ry="6.3"/><ellipse cx="1132.5" cy="530" rx="5.5" ry="6.3"/><ellipse cx="1158.3" cy="530" rx="5.5" ry="6.3"/><ellipse cx="1184.1" cy="530" rx="5.5" ry="6.3"/>
<ellipse cx="1046.7" cy="606.5" rx="5.5" ry="6.3"/><ellipse cx="1089.6" cy="606.5" rx="5.5" ry="6.3"/><ellipse cx="1132.5" cy="606.5" rx="5.5" ry="6.3"/><ellipse cx="1175.4" cy="606.5" rx="5.5" ry="6.3"/><ellipse cx="1218.3" cy="606.5" rx="5.5" ry="6.3"/></g>
<ellipse cx="1132.5" cy="415.3" rx="16.5" ry="17" fill="#ee2211"/>
<text class="s" x="1019.5" y="622" font-size="68">[</text>
<text class="s" x="1226.5" y="622" font-size="68">]</text>
</g>
<g id="ellipsis" fill="#000"><circle cx="1253" cy="508" r="3.3"/><circle cx="1297" cy="508" r="3.3"/><circle cx="1341" cy="508" r="3.3"/></g>

<g id="label-H">
<text class="s it" x="464" y="523" font-size="48">H</text>
<text class="s it" x="500" y="511" font-size="32">A</text>
<text class="s" x="521" y="515" font-size="25">0</text>
<text class="s" x="537" y="523" font-size="48">(<tspan class="it">t</tspan>)</text>
</g>
<g id="label-HA0">
<text class="s" x="481" y="617" font-size="48">=</text>
<text class="s" x="530" y="617" font-size="48">[</text>
<text class="s it" x="546" y="617" font-size="48">H</text>
<text class="s it" x="582" y="603" font-size="32">A</text>
<text class="s" x="603" y="607" font-size="25">0</text>
<text class="s" x="617" y="617" font-size="48">]</text>
<text class="s" x="636" y="617" font-size="48">(<tspan class="it">t</tspan>)</text>
</g>
<g id="label-Ht">
<text class="s" x="1451" y="522" font-size="48">=</text>
<text class="s it" x="1485" y="522" font-size="50">H</text>
<text class="s" x="1524" y="522" font-size="50">(<tspan class="it">t</tspan>)</text>
</g>

<g id="plot-1">
<g class="grid"><line x1="121.2" y1="671.4" x2="121.2" y2="938.8"/><line x1="230" y1="671.4" x2="230" y2="938.8"/><line x1="338.8" y1="671.4" x2="338.8" y2="938.8"/><line x1="447.6" y1="671.4" x2="447.6" y2="938.8"/><line x1="87.8" y1="702" x2="535.7" y2="702"/><line x1="87.8" y1="776.5" x2="535.7" y2="776.5"/><line x1="87.8" y1="851" x2="535.7" y2="851"/><line x1="87.8" y1="925.5" x2="535.7" y2="925.5"/></g>
<rect x="88" y="672" width="448" height="266" fill="url(#dotB)" mask="url(#mA)"/>
<g fill="#45c0f4" fill-opacity="0.6"><circle cx="300.7" cy="710.6" r="2.7"/><circle cx="341.5" cy="725.5" r="2.7"/><circle cx="394.3" cy="752.3" r="2.7"/><circle cx="406.8" cy="764.2" r="2.7"/><circle cx="408.4" cy="777.6" r="2.7"/><circle cx="413.9" cy="791" r="2.7"/><circle cx="445.4" cy="805.9" r="2.7"/><circle cx="456.3" cy="816" r="2.7"/><circle cx="463.4" cy="836.1" r="2.7"/><circle cx="466.6" cy="868.1" r="2.7"/><circle cx="459.6" cy="888.3" r="2.7"/><circle cx="438.4" cy="886.4" r="2.7"/><circle cx="385.6" cy="900.2" r="2.7"/><circle cx="344.8" cy="888.3" r="2.7"/><circle cx="314.9" cy="883" r="2.7"/><circle cx="304" cy="896.8" r="2.7"/><circle cx="293.6" cy="888.3" r="2.7"/><circle cx="261.6" cy="891.6" r="2.7"/><circle cx="169.6" cy="873" r="2.7"/><circle cx="194.6" cy="775.8" r="2.7"/><circle cx="180.5" cy="822.7" r="2.7"/><circle cx="219.1" cy="748.9" r="2.7"/><circle cx="240.3" cy="730.7" r="2.7"/><circle cx="425.8" cy="821.2" r="2.7"/><circle cx="442.2" cy="877.1" r="2.7"/><circle cx="415" cy="886.4" r="2.7"/><circle cx="366" cy="886.4" r="2.7"/><circle cx="219.1" cy="887.5" r="2.7"/><circle cx="197.4" cy="884.5" r="2.7"/><circle cx="178.3" cy="869.6" r="2.7"/><circle cx="175.6" cy="839.8" r="2.7"/><circle cx="186.5" cy="802.6" r="2.7"/><circle cx="327.9" cy="715" r="2.7"/><circle cx="284.4" cy="722.5" r="2.7"/><circle cx="366" cy="731.8" r="2.7"/><circle cx="387.8" cy="741.1" r="2.7"/><circle cx="395.9" cy="784" r="2.7"/><circle cx="450.3" cy="858.5" r="2.7"/><circle cx="404.1" cy="884.5" r="2.7"/><circle cx="235.4" cy="886.4" r="2.7"/><circle cx="355.1" cy="892" r="2.7"/><circle cx="322.5" cy="890.1" r="2.7"/></g>
<use href="#kdeAll" class="gc" transform="translate(338.8 776.5) scale(54.4 -37.25)"/>
<use href="#kdeA" transform="translate(338.8 776.5) scale(54.4 -37.25)" fill="none" stroke="#0c0c80" stroke-width="3.6"/>
<path d="M-7,-7 L7,7 M-7,7 L7,-7" transform="translate(313.2 813.4)" stroke="#0c0c80" stroke-width="5.5"/>
<path class="ax" d="M87.8,671.4 V938.8 H535.7"/>
<g class="tk tx"><text x="121.2" y="962">−4</text><text x="230" y="962">−2</text><text x="338.8" y="962">0</text><text x="447.6" y="962">2</text></g>
<g class="tk ty"><text x="80" y="710.5">2</text><text x="80" y="785">0</text><text x="80" y="859.5">−2</text><text x="80" y="934">−4</text></g>
<text class="s" x="310" y="999" font-size="37" text-anchor="middle">PC1</text>
<text class="s" transform="translate(59 793) rotate(-90)" font-size="40" text-anchor="middle">PC2</text>
</g>

<g id="plot-2">
<g class="grid"><line x1="648.9" y1="673.1" x2="648.9" y2="939.5"/><line x1="758.1" y1="673.1" x2="758.1" y2="939.5"/><line x1="867.3" y1="673.1" x2="867.3" y2="939.5"/><line x1="976.5" y1="673.1" x2="976.5" y2="939.5"/><line x1="618.3" y1="689.8" x2="1063.3" y2="689.8"/><line x1="618.3" y1="771.4" x2="1063.3" y2="771.4"/><line x1="618.3" y1="853" x2="1063.3" y2="853"/><line x1="618.3" y1="934.6" x2="1063.3" y2="934.6"/></g>
<rect x="619" y="674" width="444" height="265" fill="url(#dotG)" mask="url(#mB)"/>
<ellipse cx="853" cy="794" rx="68" ry="52" fill="url(#coreG)"/>
<g fill="#a2cf45" fill-opacity="0.65"><circle cx="834.5" cy="714.3" r="2.7"/><circle cx="891.9" cy="721.6" r="2.7"/><circle cx="900.1" cy="722.4" r="2.7"/><circle cx="815.4" cy="724.5" r="2.7"/><circle cx="845.5" cy="722.4" r="2.7"/><circle cx="926.3" cy="742.8" r="2.7"/><circle cx="919.2" cy="749" r="2.7"/><circle cx="938.3" cy="767.3" r="2.7"/><circle cx="949.2" cy="791.8" r="2.7"/><circle cx="957.4" cy="789.8" r="2.7"/><circle cx="932.8" cy="804" r="2.7"/><circle cx="943.7" cy="816.3" r="2.7"/><circle cx="962.8" cy="836.7" r="2.7"/><circle cx="949.2" cy="832.6" r="2.7"/><circle cx="971" cy="861.2" r="2.7"/><circle cx="990.2" cy="859.1" r="2.7"/><circle cx="965.6" cy="877.5" r="2.7"/><circle cx="932.8" cy="848.9" r="2.7"/><circle cx="916.4" cy="857.1" r="2.7"/><circle cx="900.1" cy="861.2" r="2.7"/><circle cx="883.7" cy="865.2" r="2.7"/><circle cx="894.6" cy="877.5" r="2.7"/><circle cx="875.5" cy="881.6" r="2.7"/><circle cx="861.8" cy="879.5" r="2.7"/><circle cx="859.1" cy="889.7" r="2.7"/><circle cx="848.2" cy="873.4" r="2.7"/><circle cx="834.5" cy="865.2" r="2.7"/><circle cx="818.2" cy="867.3" r="2.7"/><circle cx="801.8" cy="857.1" r="2.7"/><circle cx="785.4" cy="859.1" r="2.7"/><circle cx="769" cy="857.1" r="2.7"/><circle cx="752.6" cy="855" r="2.7"/><circle cx="741.7" cy="861.2" r="2.7"/><circle cx="730.8" cy="853" r="2.7"/><circle cx="747.2" cy="836.7" r="2.7"/><circle cx="758.1" cy="844.8" r="2.7"/><circle cx="763.6" cy="828.5" r="2.7"/><circle cx="752.6" cy="812.2" r="2.7"/><circle cx="741.7" cy="785.7" r="2.7"/><circle cx="758.1" cy="795.9" r="2.7"/><circle cx="763.6" cy="767.3" r="2.7"/><circle cx="771.7" cy="755.1" r="2.7"/><circle cx="782.7" cy="736.7" r="2.7"/><circle cx="799.1" cy="730.6" r="2.7"/><circle cx="826.4" cy="875.4" r="2.7"/><circle cx="810" cy="877.5" r="2.7"/><circle cx="840" cy="859.1" r="2.7"/><circle cx="921.9" cy="832.6" r="2.7"/><circle cx="924.6" cy="842.8" r="2.7"/><circle cx="736.3" cy="824.4" r="2.7"/></g>
<use href="#kdeAll" class="gc" transform="translate(867.3 771.4) scale(54.6 -40.8)"/>
<use href="#kdeB" transform="translate(867.3 771.4) scale(54.6 -40.8)" fill="none" stroke="#0a650a" stroke-width="3.6"/>
<path d="M-7,-7 L7,7 M-7,7 L7,-7" transform="translate(831.3 792.2)" stroke="#0a650a" stroke-width="5.5"/>
<path class="ax" d="M618.3,673.1 V939.5 H1063.3"/>
<g class="tk tx"><text x="648.9" y="962">−4</text><text x="758.1" y="962">−2</text><text x="867.3" y="962">0</text><text x="976.5" y="962">2</text></g>
<g class="tk ty"><text x="610" y="698.3">2</text><text x="610" y="779.9">0</text><text x="610" y="861.5">−2</text><text x="610" y="943.1">−4</text></g>
<text class="s" x="829" y="999" font-size="37" text-anchor="middle">PC1</text>
<text class="s" transform="translate(586 792) rotate(-90)" font-size="40" text-anchor="middle">PC2</text>
</g>

<g id="plot-3">
<g class="grid"><line x1="1181" y1="672" x2="1181" y2="939.5"/><line x1="1289.5" y1="672" x2="1289.5" y2="939.5"/><line x1="1398" y1="672" x2="1398" y2="939.5"/><line x1="1506.5" y1="672" x2="1506.5" y2="939.5"/><line x1="1149.5" y1="689.8" x2="1593.3" y2="689.8"/><line x1="1149.5" y1="771.4" x2="1593.3" y2="771.4"/><line x1="1149.5" y1="853" x2="1593.3" y2="853"/><line x1="1149.5" y1="934.6" x2="1593.3" y2="934.6"/></g>
<g fill="#f2867a" fill-opacity="0.55"><circle cx="1371.4" cy="717.1" r="2.7"/><circle cx="1335.6" cy="744.1" r="2.7"/><circle cx="1373" cy="743.2" r="2.7"/><circle cx="1398.5" cy="740.8" r="2.7"/><circle cx="1432.7" cy="738.8" r="2.7"/><circle cx="1441.4" cy="738.8" r="2.7"/><circle cx="1344.3" cy="755.5" r="2.7"/><circle cx="1373" cy="753.9" r="2.7"/><circle cx="1392" cy="759.2" r="2.7"/><circle cx="1415.9" cy="759.2" r="2.7"/><circle cx="1429.5" cy="759.2" r="2.7"/><circle cx="1330.2" cy="769" r="2.7"/><circle cx="1352.4" cy="777.5" r="2.7"/><circle cx="1371.4" cy="775.9" r="2.7"/><circle cx="1381.7" cy="772.2" r="2.7"/><circle cx="1388.2" cy="784" r="2.7"/><circle cx="1419.2" cy="774.3" r="2.7"/><circle cx="1443" cy="777.5" r="2.7"/><circle cx="1456.6" cy="779.2" r="2.7"/><circle cx="1466.9" cy="782.4" r="2.7"/><circle cx="1337.2" cy="797.5" r="2.7"/><circle cx="1386.6" cy="794.2" r="2.7"/><circle cx="1405.6" cy="791" r="2.7"/><circle cx="1322.1" cy="812.6" r="2.7"/><circle cx="1330.2" cy="812.6" r="2.7"/><circle cx="1371.4" cy="807.7" r="2.7"/><circle cx="1385" cy="812.6" r="2.7"/><circle cx="1340.5" cy="832.6" r="2.7"/><circle cx="1371.4" cy="831" r="2.7"/><circle cx="1313.4" cy="846.1" r="2.7"/><circle cx="1326.9" cy="842.8" r="2.7"/><circle cx="1344.3" cy="851" r="2.7"/><circle cx="1356.2" cy="859.5" r="2.7"/><circle cx="1374.7" cy="859.5" r="2.7"/><circle cx="1385" cy="852.6" r="2.7"/><circle cx="1393.7" cy="861.2" r="2.7"/><circle cx="1354.1" cy="886" r="2.7"/><circle cx="1404" cy="884.4" r="2.7"/><circle cx="1443" cy="886" r="2.7"/><circle cx="1456.6" cy="886" r="2.7"/><circle cx="1490.8" cy="882.8" r="2.7"/><circle cx="1508.1" cy="886" r="2.7"/><circle cx="1482.1" cy="902.8" r="2.7"/><circle cx="1501.1" cy="876.3" r="2.7"/><circle cx="1517.9" cy="847.7" r="2.7"/><circle cx="1520.1" cy="859.5" r="2.7"/><circle cx="1420.8" cy="877.9" r="2.7"/><circle cx="1412.1" cy="872.6" r="2.7"/><circle cx="1405.6" cy="866.1" r="2.7"/><circle cx="1452.3" cy="789.8" r="2.7"/><circle cx="1476.7" cy="793.8" r="2.7"/><circle cx="1492.9" cy="804" r="2.7"/><circle cx="1427.8" cy="793.8" r="2.7"/><circle cx="1522.8" cy="832.6" r="2.7"/><circle cx="1517.4" cy="869.3" r="2.7"/><circle cx="1414.3" cy="877.5" r="2.7"/><circle cx="1468.5" cy="885.6" r="2.7"/><circle cx="1392.6" cy="832.6" r="2.7"/><circle cx="1389.9" cy="844.8" r="2.7"/></g>
<rect x="1150" y="673" width="443" height="266" fill="url(#dotR)" mask="url(#mC)"/>
<ellipse cx="1460" cy="843" rx="52" ry="32" fill="url(#coreR)"/>
<use href="#kdeAll" class="gc" transform="translate(1398 771.4) scale(54.25 -40.8)"/>
<use href="#kdeC" transform="translate(1398 771.4) scale(54.25 -40.8)" fill="none" stroke="#8b0000" stroke-width="3.6"/>
<path d="M-7,-7 L7,7 M-7,7 L7,-7" transform="translate(1474 829.7)" stroke="#8b0000" stroke-width="5.5"/>
<path class="ax" d="M1149.5,672 V939.5 H1593.3"/>
<g class="tk tx"><text x="1181" y="962">−4</text><text x="1289.5" y="962">−2</text><text x="1398" y="962">0</text><text x="1506.5" y="962">2</text></g>
<g class="tk ty"><text x="1141" y="698.3">2</text><text x="1141" y="779.9">0</text><text x="1141" y="861.5">−2</text><text x="1141" y="943.1">−4</text></g>
<text class="s" x="1362" y="999" font-size="37" text-anchor="middle">PC1</text>
<text class="s" transform="translate(1115 794) rotate(-90)" font-size="40" text-anchor="middle">PC2</text>
</g>
</svg>
